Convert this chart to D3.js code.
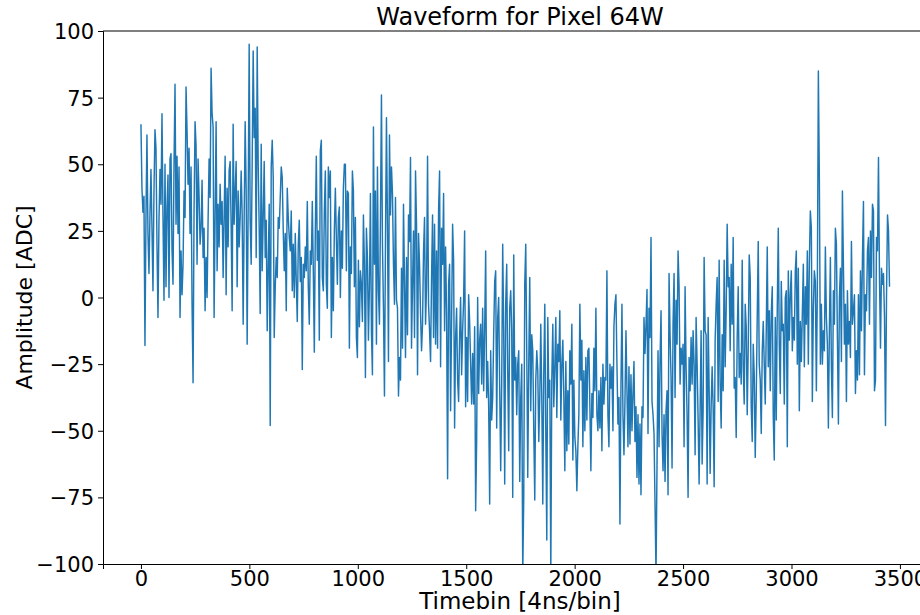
<!DOCTYPE html>
<html>
<head>
<meta charset="utf-8">
<script src="https://cdn.jsdelivr.net/npm/d3@7"></script>
<style>
  html, body { margin: 0; padding: 0; background: #fff; }
  svg { display: block; }
  text { font-family: "DejaVu Sans", sans-serif; fill: #000; }
</style>
</head>
<body>
<svg id="chart" width="920" height="615"></svg>
<script>
// Sampled waveform amplitudes [ADC], in acquisition order
const amplitude = [
  65, 41, 32, 38, -18, 30, 61, 24, 9, 31, 48, 26, 2.5, 40, 63, 56, 20, -7.5, 29, 48,
  35, 69, 30, -1, 50, 4, 34, 46, 0, 52, 54, 18, 5, 50, 80, 27.5, 53, 24, 49, -7.5,
  17.5, 1, 12.5, 40, 30, 79, 62.5, 42.5, 56, 24, 49, -2.5, -32, 32.5, 66, 57, 12.5, 52, 38, 20,
  26, 44, 15, 26,
  -5, 15, 0, 29, 52, 37.5, 86, 69, 64, -7.5, 30, 66, 10, 35, 19, 42.5, 27.5, 36, 7.5, 30,
  53, 1, 41, 19, 47.5, 51, 27.5, -5, 65, 27.5, 40, 51, 4, 40, 19, 30, 47.5, 31, -10, 30,
  66, 40, -17.5, 35, 95, 29, 12.5, 50, 92.5, 60, 71, 15, 94, 50, 26, -6, 57.5, 10, 30, 51,
  15, 29, -12.5, 12.5, 35, -48, 49, 59, 45, -15,
  4, 15, 7.5, 30, 26, 37.5, 49, 45, 25, 10, 24, -5, 41, 30, 22.5, 17.5, 32.5, 2.5, 20, 0,
  24, 6, -9, 20, 29, 6, 15, -27, 12.5, 7.5, 19, 10, 36, 4, -10, 17.5, 12.5, 36, 10, -20.5,
  25, 53, 14, 25, -16, 55, 59, 7.5, 2.5, 32.5, 47.5, 5, -4, 49, 37.5, 47.5, -15, 15, -5, 25,
  41, 22.5, 5, 30, 34, 0, 25, 11, 41, 50,
  50, 10, 40, 39, -19, 19, 9, 47.5, 40, 4, 30, -15, -22.5, 14, -11, 10, 5, -9, 31, 12.5,
  -30, 26, 15, -16, 4, 39, -12.5, -29, 64, 12.5, 40, -17.5, 49, 2.5, -10, 29, 76, 20, -4, -37,
  20, 67.5, 27.5, -24, 61, 31, 49, 39, 12.5, -2.5, 37.5, -1, -4, -37, -22.5, -31, 11, -19, 35, 6,
  -22.5, 15, -14, 31, 21, 52.5, -19, 5, 25, -15,
  47.5, 27.5, -29, 24, 12.5, -6, -20, -10, 17.5, 30, -10, 4, 53, -2.5, -12.5, -24, 7.5, 31, -15, 27.5,
  -17.5, 17.5, -19, 32.5, 47.5, -26, 26, 12.5, 39, -12.5, 19, -6, -68, 5, 12.5, -42.5, -9, 27.5, 14, -49,
  -15, -4, -31, -39, -15, 0, -29, -12.5, -1, 25, -41, -15, -39, 1, -9, -25, -40, -21, -40, -11,
  -80, -54, 0, -36, -16, -10, -32.5, -4, -35, -12.5,
  17.5, -37.5, -24, -41, -77.5, -20, -46, -37.5, -14, 6, 10, -49, -7.5, 0, -34, -65, -32.5, 20, -12.5, -70,
  -2.5, 12.5, -27.5, -57.5, -4, 2.5, -12.5, -75, 16, -31, -22.5, -44, -25, -20, -69, -37.5, -25, -104, -75, 5,
  20, -20, -67.5, -25, 7.5, -42.5, -14, -20, -50, -76, -31, -20, -27.5, -54, -37.5, -10, -37.5, -77.5, -27.5, -2.5,
  -51, -91, -7.5, -37.5, -31, -104, -31, -10, -41, -26,
  -7.5, -45, -17.5, -24, -5, -46, -25, -16, -37.5, -65, -24, -57.5, -35, -55, -20, -32.5, -10, -61, -31, -52.5,
  -57.5, -72.5, -56, -44, -2.5, -31, -16, -56, -27.5, -50, -22.5, -46, -20, -19, -41, -65, -36, -45, -19, -35,
  -4, -44, -50, -35, -49, -30, -57.5, -25, -40, -30, -31, 10, -44, -56, -25, -34, -26, -50, -11, -2.5,
  1, -25, -47.5, -37.5, -85, -34, -2.5, -44, -59, -39,
  -12.5, -35, -56, -26, -55, -29, -50, -36, -24, -54, -41, -67.5, -44, -70, -47.5, -74, -41, -45, -7.5, -21,
  -10, 3, -51, -4, -15, 22.5, -39, -44, -51, -77.5, -104, -62.5, -20, -56, -24, -5, -51, -65, -44, -69,
  -42.5, -35, -74, 9, -14, -30, -64, -10, 9, -37.5, -1, -17.5, 17.5, 4, -32.5, -19, -25, -17.5, -56, 4,
  -26, -44, -75, -22.5, -35, -15, -32.5, -12.5, -25, -59,
  -7.5, -25, -46, -70, -42.5, -12.5, -62.5, -42.5, 15, -12.5, -14, -70, -7.5, -34, -66, -41, -26, -41, -71, -16,
  -2.5, 7.5, -39, 14, -32.5, -49, -14, -35, 14, -26, -5, 27.5, 4, 7.5, -20, 12.5, -10, 22.5, -34, -30,
  -52.5, -15, 4, -30, -21, -32.5, 14, -26, -40, -2.5, -11, -44, -19, 16, 7.5, -41, -54, -17.5, -29, -60,
  -37.5, -7.5, 21, -25, -31, -51, -20, -9, -25, -40,
  -12.5, 19, -26, -5, -35, -6, 4, -45, -61, -7.5, -46, -4, 26, -17.5, -36, 6, -12.5, -10, -40, 0,
  2.5, -56, 10, -16, 1, 10, -20, -7.5, -16, 10, 17.5, -25, 11, -42.5, -9, -24, -6, 12.5, -26, 4,
  -10, 17.5, -25, 12.5, 32.5, 26, -39, -4, 10, 6, -35, 5, 85, 44, -25, -2.5, -25, -12.5, -20, 19,
  -7.5, -17.5, -49, -12.5, 15, -26, -45, 2.5, -10, 26,
  20, -15, -47.5, 0, 11, -24, 40, 12.5, -17.5, -2.5, -39, 2.5, -17.5, -9, -22.5, 21, -10, -5, 1, -36,
  -20, -31, 1, -29, 10, -12.5, 15, 36, -29, 1, -5, 17.5, 22.5, -10, 25, 7.5, 35, 32.5, -35, -31,
  22.5, 17.5, 52.5, 7.5, -19, 11, 5, 9, -7.5, -48, 0, 31, 25, 4
];

// Time axis: first and last timebin of the record, samples evenly spaced between them
const firstBin = 0;
const lastBin = 3452;

const xTicks = [0, 500, 1000, 1500, 2000, 2500, 3000, 3500];
const yTicks = [-100, -75, -50, -25, 0, 25, 50, 75, 100];

const titleText = "Waveform for Pixel 64W";
const xLabel = "Timebin [4ns/bin]";
const yLabel = "Amplitude [ADC]";

const binStep = (lastBin - firstBin) / (amplitude.length - 1);
const samples = amplitude.map((a, i) => ({ t: firstBin + i * binStep, a }));

const svg = d3.select("#chart");
const plot = { left: 103, right: 937, top: 31, bottom: 564 };

const x = d3.scaleLinear().domain([-175, 3671]).range([plot.left, plot.right]);
const y = d3.scaleLinear().domain([-100, 100]).range([plot.bottom, plot.top]);

svg.append("defs").append("clipPath").attr("id", "plot-clip")
  .append("rect")
  .attr("x", plot.left).attr("y", plot.top)
  .attr("width", plot.right - plot.left).attr("height", plot.bottom - plot.top);

// waveform trace
const line = d3.line().x(d => x(d.t)).y(d => y(d.a));
svg.append("path")
  .datum(samples)
  .attr("clip-path", "url(#plot-clip)")
  .attr("fill", "none")
  .attr("stroke", "#1f77b4")
  .attr("stroke-width", 1.45)
  .attr("stroke-linejoin", "round")
  .attr("d", line);

// axes
const tickFont = 21;
const fmt = d3.format("d");
const xAxis = d3.axisBottom(x).tickValues(xTicks).tickFormat(fmt).tickSize(5).tickPadding(2);
const yAxis = d3.axisLeft(y).tickValues(yTicks).tickFormat(v => fmt(v).replace("-", "\u2212")).tickSize(5).tickPadding(4);

const gx = svg.append("g").attr("transform", `translate(0,${plot.bottom})`).call(xAxis);
const gy = svg.append("g").attr("transform", `translate(${plot.left},0)`).call(yAxis);

[gx, gy].forEach(g => {
  g.select(".domain").attr("stroke", "#000").attr("stroke-width", 1);
  g.selectAll(".tick line").attr("stroke", "#000").attr("stroke-width", 1);
  g.selectAll(".tick text")
    .attr("fill", "#000")
    .style("font-family", '"DejaVu Sans", sans-serif')
    .style("font-size", tickFont + "px");
});
gy.selectAll(".tick text").attr("dy", "0.36em");

// top and right frame
svg.append("line")
  .attr("x1", plot.left).attr("x2", plot.right)
  .attr("y1", plot.top).attr("y2", plot.top)
  .attr("stroke", "#000").attr("stroke-width", 1);
svg.append("line")
  .attr("x1", plot.right).attr("x2", plot.right)
  .attr("y1", plot.top).attr("y2", plot.bottom)
  .attr("stroke", "#000").attr("stroke-width", 1);

// title and labels
svg.append("text")
  .attr("x", (plot.left + plot.right) / 2).attr("y", 25)
  .attr("text-anchor", "middle")
  .style("font-size", "24px")
  .text(titleText);

svg.append("text")
  .attr("x", (plot.left + plot.right) / 2).attr("y", 609)
  .attr("text-anchor", "middle")
  .style("font-size", "23px")
  .text(xLabel);

svg.append("text")
  .attr("transform", `translate(32,${(plot.top + plot.bottom) / 2}) rotate(-90)`)
  .attr("text-anchor", "middle")
  .style("font-size", "22px")
  .text(yLabel);
</script>
</body>
</html>
